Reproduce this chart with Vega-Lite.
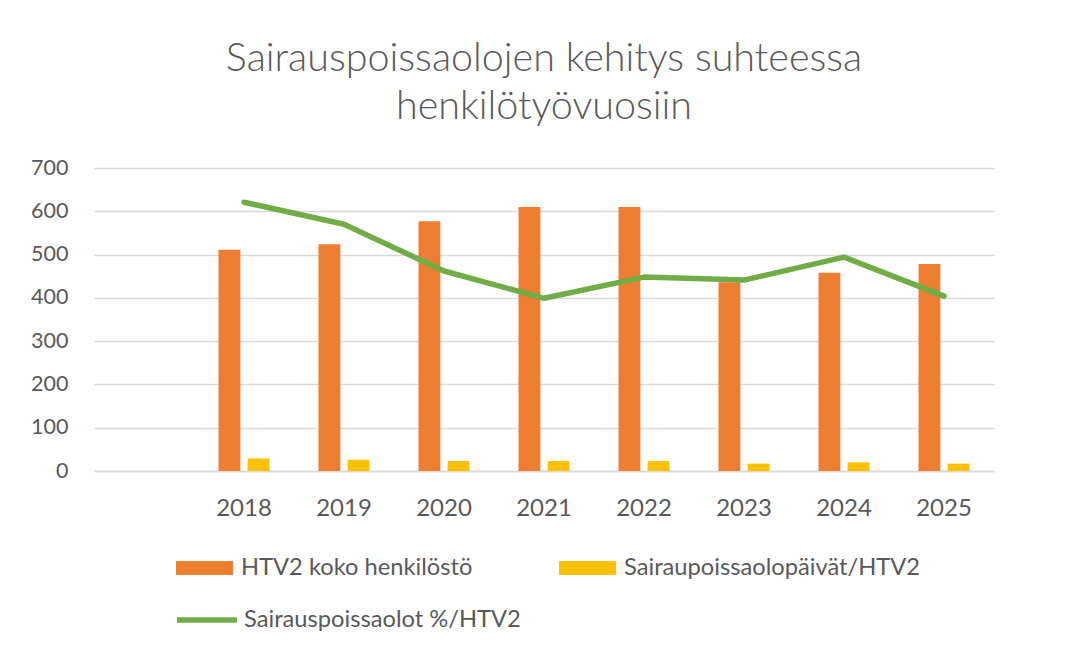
{
  "$schema": "https://vega.github.io/schema/vega-lite/v6.json",
  "width": 900,
  "height": 303,
  "padding": {"left": 30, "top": 38, "right": 10, "bottom": 10},
  "background": "white",
  "config": {"view": {"stroke": null}, "font": "Lato"},
  "title": {
    "text": ["Sairauspoissaolojen kehitys suhteessa", "henkilötyövuosiin"],
    "font": "Lato",
    "fontSize": 39.5,
    "fontWeight": 300,
    "color": "#595959",
    "anchor": "middle",
    "lineHeight": 48,
    "offset": 30
  },
  "datasets": {
    "pylvaat": [
      {"vuosi": "2018", "sarja": "HTV2 koko henkilöstö", "arvo": 511},
      {"vuosi": "2018", "sarja": "Sairaupoissaolopäivät/HTV2", "arvo": 29},
      {"vuosi": "2019", "sarja": "HTV2 koko henkilöstö", "arvo": 524},
      {"vuosi": "2019", "sarja": "Sairaupoissaolopäivät/HTV2", "arvo": 26},
      {"vuosi": "2020", "sarja": "HTV2 koko henkilöstö", "arvo": 577},
      {"vuosi": "2020", "sarja": "Sairaupoissaolopäivät/HTV2", "arvo": 23},
      {"vuosi": "2021", "sarja": "HTV2 koko henkilöstö", "arvo": 610},
      {"vuosi": "2021", "sarja": "Sairaupoissaolopäivät/HTV2", "arvo": 23},
      {"vuosi": "2022", "sarja": "HTV2 koko henkilöstö", "arvo": 610},
      {"vuosi": "2022", "sarja": "Sairaupoissaolopäivät/HTV2", "arvo": 23},
      {"vuosi": "2023", "sarja": "HTV2 koko henkilöstö", "arvo": 436},
      {"vuosi": "2023", "sarja": "Sairaupoissaolopäivät/HTV2", "arvo": 17},
      {"vuosi": "2024", "sarja": "HTV2 koko henkilöstö", "arvo": 458},
      {"vuosi": "2024", "sarja": "Sairaupoissaolopäivät/HTV2", "arvo": 20},
      {"vuosi": "2025", "sarja": "HTV2 koko henkilöstö", "arvo": 478},
      {"vuosi": "2025", "sarja": "Sairaupoissaolopäivät/HTV2", "arvo": 17}
    ],
    "viiva": [
      {"vuosi": "2018", "sarja": "Sairauspoissaolot %/HTV2", "arvo": 621},
      {"vuosi": "2019", "sarja": "Sairauspoissaolot %/HTV2", "arvo": 570},
      {"vuosi": "2020", "sarja": "Sairauspoissaolot %/HTV2", "arvo": 462},
      {"vuosi": "2021", "sarja": "Sairauspoissaolot %/HTV2", "arvo": 399},
      {"vuosi": "2022", "sarja": "Sairauspoissaolot %/HTV2", "arvo": 448},
      {"vuosi": "2023", "sarja": "Sairauspoissaolot %/HTV2", "arvo": 441},
      {"vuosi": "2024", "sarja": "Sairauspoissaolot %/HTV2", "arvo": 494},
      {"vuosi": "2025", "sarja": "Sairauspoissaolot %/HTV2", "arvo": 404}
    ]
  },
  "layer": [
    {
      "data": {"name": "pylvaat"},
      "mark": {"type": "bar"},
      "encoding": {
        "x": {
          "field": "vuosi",
          "type": "nominal",
          "sort": null,
          "scale": {"domain": ["", "2018", "2019", "2020", "2021", "2022", "2023", "2024", "2025"], "paddingInner": 0.49, "paddingOuter": 0.245},
          "axis": {
            "title": null,
            "labelAngle": 0,
            "labelFont": "Lato",
            "labelFontSize": 24,
            "labelColor": "#595959",
            "labelPadding": 25,
            "ticks": false,
            "domain": true,
            "domainColor": "#D9D9D9",
            "domainWidth": 1.5,
            "grid": false
          }
        },
        "xOffset": {
          "field": "sarja",
          "type": "nominal",
          "scale": {"domain": ["HTV2 koko henkilöstö", "Sairaupoissaolopäivät/HTV2"], "paddingInner": 0.25}
        },
        "y": {
          "field": "arvo",
          "type": "quantitative",
          "scale": {"domain": [0, 700], "nice": false},
          "axis": {
            "title": null,
            "values": [0, 100, 200, 300, 400, 500, 600, 700],
            "labelFont": "Lato",
            "labelFontSize": 21.5,
            "labelColor": "#595959",
            "labelPadding": 26,
            "ticks": false,
            "domain": false,
            "grid": true,
            "gridColor": "#D9D9D9",
            "gridWidth": 1.5
          }
        },
        "fill": {
          "field": "sarja",
          "type": "nominal",
          "scale": {"domain": ["HTV2 koko henkilöstö", "Sairaupoissaolopäivät/HTV2"], "range": ["#ED7D31", "#FFC000"]},
          "legend": {
            "title": null,
            "orient": "none",
            "legendX": 82,
            "legendY": 371,
            "direction": "horizontal",
            "columns": 2,
            "columnPadding": 86,
            "symbolType": "M-1,-0.245H1V0.245H-1Z",
            "symbolSize": 3249,
            "symbolStrokeWidth": 0,
            "labelFont": "Lato",
            "labelFontSize": 23.7,
            "labelColor": "#595959",
            "labelOffset": 8,
            "labelLimit": 500
          }
        }
      }
    },
    {
      "data": {"name": "viiva"},
      "mark": {"type": "line", "strokeWidth": 5.5, "strokeCap": "round", "strokeJoin": "round"},
      "encoding": {
        "x": {"field": "vuosi", "type": "nominal", "sort": null},
        "y": {"field": "arvo", "type": "quantitative"},
        "stroke": {
          "field": "sarja",
          "type": "nominal",
          "scale": {"domain": ["Sairauspoissaolot %/HTV2"], "range": ["#70AD47"]},
          "legend": {
            "title": null,
            "orient": "none",
            "legendX": 80,
            "legendY": 419,
            "symbolType": "stroke",
            "symbolSize": 3600,
            "symbolStrokeWidth": 5.5,
            "labelFont": "Lato",
            "labelFontSize": 23.7,
            "labelColor": "#595959",
            "labelOffset": 4,
            "labelLimit": 500
          }
        }
      }
    }
  ],
  "resolve": {"scale": {"fill": "independent", "stroke": "independent"}}
}
